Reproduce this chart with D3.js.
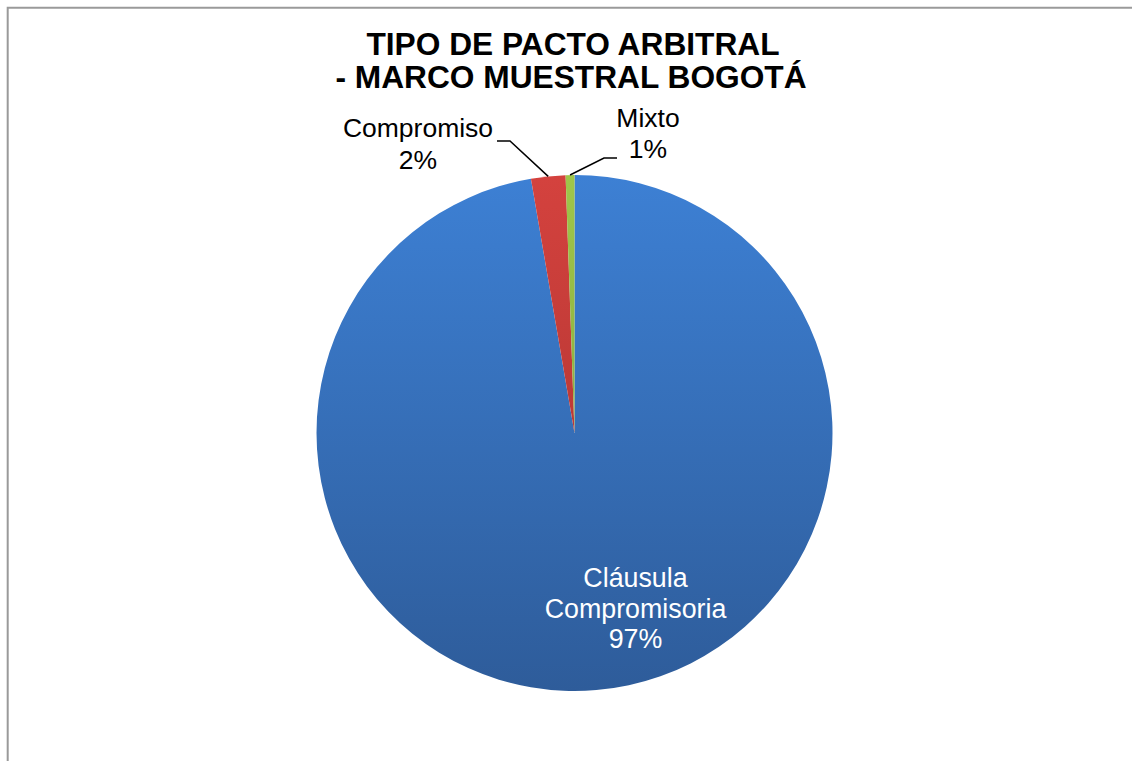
<!DOCTYPE html>
<html>
<head>
<meta charset="utf-8">
<script src="https://cdn.jsdelivr.net/npm/d3@7"></script>
<style>
  html, body { margin: 0; padding: 0; background: #ffffff; }
  svg { display: block; }
</style>
</head>
<body>
<svg id="chart" width="1132" height="761"></svg>
<script>
const categories = ["Cláusula Compromisoria", "Compromiso", "Mixto"];
const values = [97.3, 2.15, 0.55];
const percentLabels = ["97%", "2%", "1%"];
const titleLines = ["TIPO DE PACTO ARBITRAL", "- MARCO MUESTRAL BOGOTÁ"];

const svg = d3.select("#chart");
const W = 1132, H = 761;
const cx = 574.5, cy = 433, R = 258;
const font = "'Liberation Sans', Arial, sans-serif";

// Chart area border (only top and left visible in the frame)
svg.append("path")
  .attr("d", `M7.7,${H} L7.7,7.7 L${W},7.7`)
  .attr("fill", "none")
  .attr("stroke", "#9a9a9a")
  .attr("stroke-width", 2);

// Vertical gradients per slice (in the pie group's coordinate space)
const gradColors = [
  ["#3d80d4", "#2e5c9a"],
  ["#d4423e", "#a3302d"],
  ["#9fc64a", "#7a9a35"]
];
const defs = svg.append("defs");
gradColors.forEach((c, i) => {
  const gr = defs.append("linearGradient")
    .attr("id", "g" + i)
    .attr("gradientUnits", "userSpaceOnUse")
    .attr("x1", 0).attr("y1", -R)
    .attr("x2", 0).attr("y2", R);
  gr.append("stop").attr("offset", "0%").attr("stop-color", c[0]);
  gr.append("stop").attr("offset", "100%").attr("stop-color", c[1]);
});

const pie = d3.pie().sort(null).value(d => d)
  .startAngle(0).endAngle(2 * Math.PI);
const arcs = pie(values);
const arc = d3.arc().innerRadius(0).outerRadius(R);

const g = svg.append("g").attr("transform", `translate(${cx},${cy})`);
g.selectAll("path.slice")
  .data(arcs)
  .enter().append("path")
  .attr("class", "slice")
  .attr("d", arc)
  .attr("fill", (d, i) => `url(#g${i})`)
  .attr("stroke", "none");

// Title
const title = svg.append("text")
  .attr("text-anchor", "middle")
  .attr("font-family", font)
  .attr("font-weight", "bold")
  .attr("font-size", 31.7)
  .attr("fill", "#000");
title.append("tspan").attr("x", 573).attr("y", 55).text(titleLines[0]);
title.append("tspan").attr("x", 571).attr("y", 88).text(titleLines[1]);

function outerMid(d, r) {
  const a = (d.startAngle + d.endAngle) / 2;
  return [cx + r * Math.sin(a), cy - r * Math.cos(a)];
}

// Label: Cláusula Compromisoria (inside)
const l0 = svg.append("text")
  .attr("text-anchor", "middle")
  .attr("font-family", font)
  .attr("font-size", 26.8)
  .attr("fill", "#ffffff");
["Cláusula", "Compromisoria", percentLabels[0]].forEach((t, k) => {
  l0.append("tspan").attr("x", 635.5).attr("y", 587 + k * 30.5).text(t);
});

// Label: Compromiso (outside, left)
const l1 = svg.append("text")
  .attr("text-anchor", "middle")
  .attr("font-family", font)
  .attr("font-size", 26.5)
  .attr("fill", "#000");
l1.append("tspan").attr("x", 418).attr("y", 137).text(categories[1]);
l1.append("tspan").attr("x", 418).attr("y", 168.5).text(percentLabels[1]);

// Label: Mixto (outside, right)
const l2 = svg.append("text")
  .attr("text-anchor", "middle")
  .attr("font-family", font)
  .attr("font-size", 26.5)
  .attr("fill", "#000");
l2.append("tspan").attr("x", 648).attr("y", 127).text(categories[2]);
l2.append("tspan").attr("x", 648).attr("y", 158).text(percentLabels[2]);

// Leader lines
const p1 = outerMid(arcs[1], R);
svg.append("polyline")
  .attr("points", `497,141 510,141 ${p1[0]},${p1[1]}`)
  .attr("fill", "none").attr("stroke", "#000").attr("stroke-width", 1.5);
const p2 = outerMid(arcs[2], R);
svg.append("polyline")
  .attr("points", `617,158 604,158 ${p2[0]},${p2[1]}`)
  .attr("fill", "none").attr("stroke", "#000").attr("stroke-width", 1.5);
</script>
</body>
</html>
